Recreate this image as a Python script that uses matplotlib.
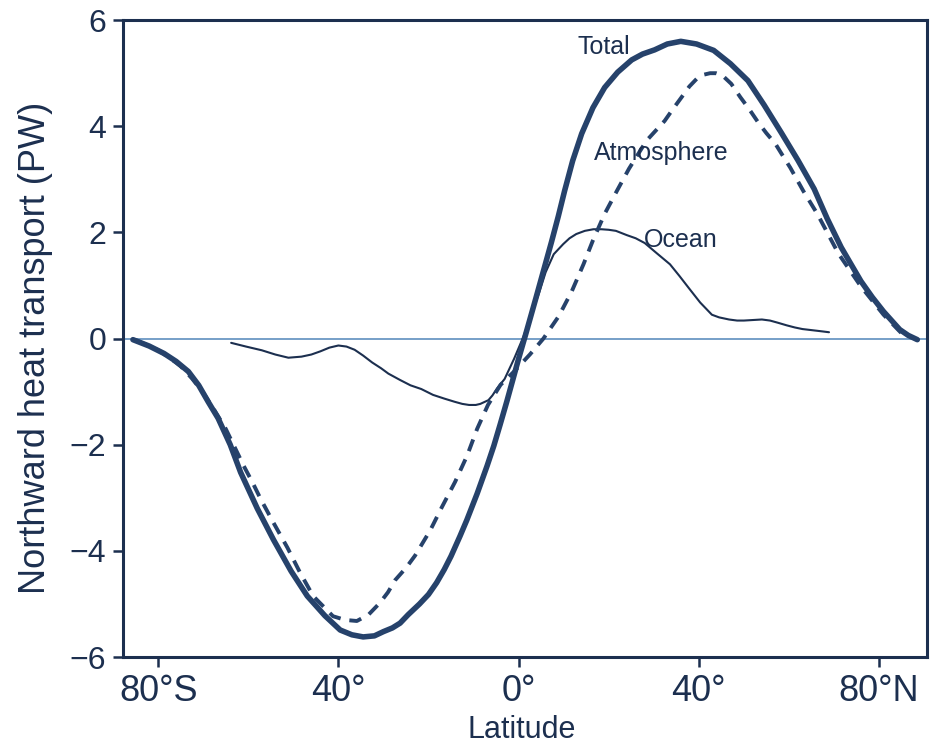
import numpy as np
import matplotlib
matplotlib.use("Agg")
import matplotlib.pyplot as plt

#%% Daten
# Total
total_lat = np.array([-85.6, -82, -78.7, -76, -73.3, -71, -68.9, -66.7, -64, -61.7,
                      -58, -54.4, -50.5, -46.9, -43, -39.6, -37, -34.5, -32, -30,
                      -28, -26.3, -24.5, -22, -20, -18.2, -16.5, -15, -13, -11.5,
                      -9.2, -7, -5.5, -4.1, -2.6, -1.2, 0, 1.5, 3.8, 5.5,
                      7.3, 8.8, 10.2, 12, 14, 16.5, 19.1, 22, 25.1, 27.5,
                      30.2, 33, 36, 39.5, 43.3, 47, 50.9, 54.5, 58.3, 62,
                      65.6, 68.5, 71.6, 74, 76, 78.5, 81, 84.6, 86.5, 88.5])
total_val = np.array([-0.02, -0.14, -0.28, -0.43, -0.62, -0.88, -1.19, -1.50, -2.00, -2.52,
                      -3.20, -3.79, -4.38, -4.85, -5.22, -5.49, -5.58, -5.62, -5.60, -5.52,
                      -5.45, -5.36, -5.20, -5.00, -4.82, -4.60, -4.35, -4.10, -3.72, -3.42,
                      -2.92, -2.40, -2.02, -1.62, -1.18, -0.75, -0.38, 0.06, 0.75, 1.27,
                      1.82, 2.30, 2.78, 3.35, 3.86, 4.35, 4.73, 5.02, 5.25, 5.36,
                      5.44, 5.55, 5.60, 5.55, 5.43, 5.18, 4.86, 4.40, 3.88, 3.36,
                      2.82, 2.26, 1.72, 1.37, 1.08, 0.78, 0.51, 0.17, 0.06, -0.02])

# Atmosphere
atm_lat = np.array([-85, -82.5, -80, -77.5, -75, -72.5, -70, -67.5, -65, -63,
                    -61, -59, -57.2, -54.4, -51.3, -48.5, -45.6, -41.2, -38.5, -35.9,
                    -33.3, -30.8, -29, -27.4, -25, -23, -21.3, -19.6, -17, -14.1,
                    -11.4, -9.2, -6.8, -4, -1, 2.5, 5.5, 8.9, 11.8, 14.4,
                    16.5, 19.1, 21.8, 24.5, 28.4, 32.4, 34.3, 36.2, 37.9, 39.6,
                    41, 42.5, 43.8, 45.2, 47.2, 49.2, 51.2, 53.2, 55, 57,
                    58.6, 60.3, 63.2, 66.3, 71, 76, 81, 85])
atm_val = np.array([-0.03, -0.12, -0.22, -0.36, -0.52, -0.75, -1.02, -1.35, -1.70, -2.05,
                    -2.40, -2.72, -3.03, -3.47, -3.94, -4.41, -4.85, -5.23, -5.30, -5.32,
                    -5.20, -4.98, -4.78, -4.55, -4.32, -4.09, -3.85, -3.61, -3.17, -2.70,
                    -2.20, -1.70, -1.25, -0.87, -0.62, -0.30, 0.00, 0.42, 0.89, 1.40,
                    1.85, 2.35, 2.78, 3.20, 3.73, 4.10, 4.33, 4.55, 4.75, 4.90,
                    4.97, 5.00, 5.00, 4.96, 4.80, 4.55, 4.32, 4.07, 3.87, 3.67,
                    3.45, 3.22, 2.78, 2.35, 1.60, 0.98, 0.45, 0.10])

# Ocean
ocean_lat = np.array([-63.8, -60.5, -57, -54, -51.1, -48.2, -46, -44, -42, -40,
                      -38.2, -36.4, -34.5, -32.5, -30.5, -28.9, -26.3, -24, -21.6, -19,
                      -16.5, -14.2, -12.5, -11, -9.5, -8.5, -6.7, -5.8, -4.8, -3.1,
                      -1, 1.1, 3, 4.5, 6, 7.8, 9.9, 11.3, 12.8, 14.7,
                      16.6, 18.4, 20, 21.6, 24, 26, 28, 30.5, 33.6, 35.7,
                      37.8, 40.3, 42.9, 44.5, 46.7, 48.5, 50, 52, 54, 55.8,
                      57.5, 59.5, 61.3, 63, 65, 67, 68.9])
ocean_val = np.array([-0.08, -0.15, -0.22, -0.30, -0.36, -0.34, -0.30, -0.24, -0.17, -0.13,
                      -0.15, -0.21, -0.32, -0.45, -0.56, -0.66, -0.78, -0.88, -0.95, -1.06,
                      -1.13, -1.19, -1.23, -1.25, -1.25, -1.23, -1.16, -1.07, -0.94, -0.76,
                      -0.38, 0.04, 0.50, 0.85, 1.25, 1.59, 1.78, 1.89, 1.97, 2.03,
                      2.06, 2.06, 2.05, 2.03, 1.95, 1.89, 1.80, 1.62, 1.40, 1.18,
                      0.95, 0.68, 0.45, 0.40, 0.36, 0.34, 0.34, 0.35, 0.36, 0.34,
                      0.30, 0.25, 0.21, 0.18, 0.16, 0.14, 0.12])

x_ticks = [-80, -40, 0, 40, 80]
x_ticklabels = ["80°S", "40°", "0°", "40°", "80°N"]
y_ticks = [-6, -4, -2, 0, 2, 4, 6]
y_ticklabels = ["\u22126", "\u22124", "\u22122", "0", "2", "4", "6"]

# Beschriftungen im Plot
labels = ["Total", "Atmosphere", "Ocean"]
label_lat = [19.0, 31.6, 36.0]
label_val = [5.49, 3.50, 1.86]

#%% Plot
plt.rcParams['font.family'] = ['Liberation Sans', 'DejaVu Sans']
navy = "#1c2f4f"
line_c = "#26426b"

fig = plt.figure(figsize=(9.5, 7.45), dpi=100)
ax = fig.add_axes([0.1295, 0.118, 0.8463, 0.855])

# Nulllinie
ax.axhline(0, color="#5f8fbf", linewidth=1.2, zorder=1)

ax.plot(ocean_lat, ocean_val, color=navy, linewidth=1.5, zorder=2,
        solid_joinstyle="round", solid_capstyle="round")
ax.plot(total_lat, total_val, color=line_c, linewidth=4.0, zorder=3,
        solid_joinstyle="round", solid_capstyle="round")
ax.plot(atm_lat, atm_val, color=line_c, linewidth=2.8, zorder=4,
        dashes=(3.2, 2.3))

for t, lx, ly in zip(labels, label_lat, label_val):
    ax.text(lx, ly, t, fontsize=18, color=navy, ha="center", va="center", zorder=5)

ax.set_xlim(-87.8, 90.65)
ax.set_ylim(-6, 6)
ax.set_xticks(x_ticks)
ax.set_xticklabels(x_ticklabels, fontsize=26, color=navy)
ax.set_yticks(y_ticks)
ax.set_yticklabels(y_ticklabels, fontsize=23, color=navy)
ax.tick_params(axis="both", direction="out", length=7, width=1.8, color=navy, pad=5)

for s in ax.spines.values():
    s.set_linewidth(2.2)
    s.set_color(navy)

ax.set_ylabel("Northward heat transport (PW)", fontsize=26, color=navy)
ax.yaxis.set_label_coords(-0.087, 0.485)
ax.set_xlabel("Latitude", fontsize=22, color=navy)
ax.xaxis.set_label_coords(0.496, -0.091)

fig.savefig("out.png", dpi=100)
